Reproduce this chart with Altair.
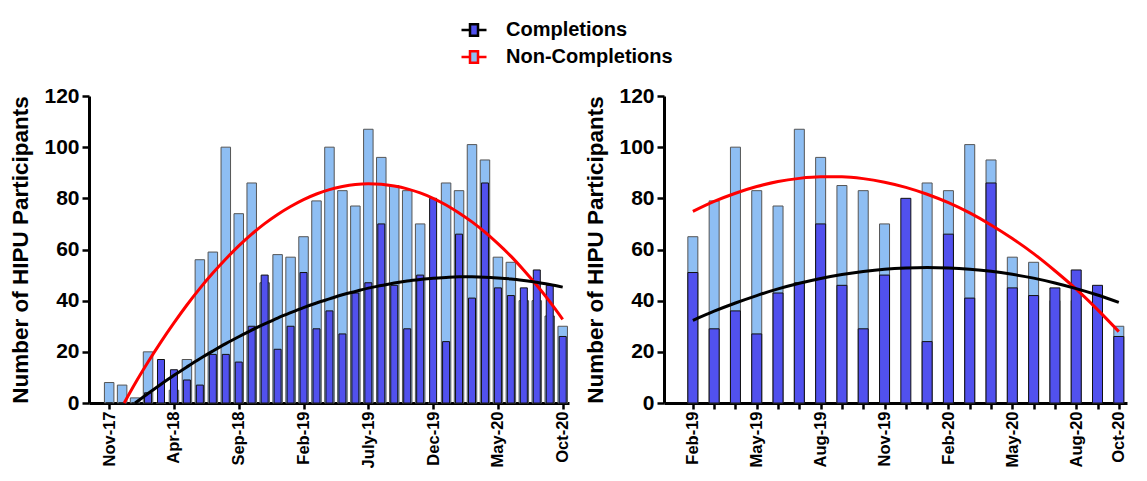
import altair as alt
import pandas as pd

FONT = "Liberation Sans"
DARK = "#5151EE"
LIGHT = "#8EBEF3"

months = ["Nov-17", "Dec-17", "Jan-18", "Feb-18", "Mar-18", "Apr-18", "May-18", "Jun-18",
          "Jul-18", "Aug-18", "Sep-18", "Oct-18", "Nov-18", "Dec-18", "Jan-19", "Feb-19",
          "Mar-19", "Apr-19", "May-19", "Jun-19", "July-19", "Aug-19", "Sep-19", "Oct-19",
          "Nov-19", "Dec-19", "Jan-20", "Feb-20", "Mar-20", "Apr-20", "May-20", "Jun-20",
          "Jul-20", "Aug-20", "Sep-20", "Oct-20"]
completions = [0, 0, 0, 4, 17, 13, 9, 7, 19, 19, 16, 30, 50, 21, 30, 51, 29, 36, 27, 43,
               47, 70, 46, 29, 50, 80, 24, 66, 41, 86, 45, 42, 45, 52, 46, 26]
non_completions = [8, 7, 2, 20, 0, 5, 17, 56, 59, 100, 74, 86, 47, 58, 57, 65, 79, 100, 83, 77,
                   107, 96, 85, 83, 70, 0, 86, 83, 101, 95, 57, 55, 40, 40, 34, 30]

# fitted curves (month index, value)
left_red_x = [1.16] + list(range(2, 36))
left_red = [0, 7.6, 16.0, 23.9, 31.3, 38.3, 44.8, 50.8, 56.3, 61.4, 66.0, 70.1, 73.7, 76.8,
            79.5, 81.7, 83.4, 84.6, 85.4, 85.7, 85.5, 84.8, 83.7, 82.1, 80.0, 77.4, 74.3,
            70.8, 66.8, 62.3, 57.4, 51.9, 46.0, 39.6, 32.7]
left_black_x = list(range(2, 36))
left_black = [0, 3.7, 7.3, 10.8, 14.1, 17.3, 20.3, 23.2, 25.9, 28.5, 30.9, 33.2, 35.3, 37.3,
              39.1, 40.7, 42.3, 43.6, 44.9, 45.9, 46.9, 47.7, 48.3, 48.8, 49.1, 49.3, 49.3,
              49.2, 48.9, 48.5, 47.9, 47.2, 46.3, 45.3]
right_x = list(range(15, 36))
right_red = [74.9, 78.8, 82.0, 84.6, 86.6, 87.8, 88.4, 88.4, 87.7, 86.3, 84.3, 81.6, 78.3,
             74.3, 69.6, 64.3, 58.4, 51.7, 44.5, 36.5, 27.9]
right_black = [32.3, 35.9, 39.1, 42.0, 44.6, 46.8, 48.7, 50.2, 51.4, 52.3, 52.8, 53.0, 52.8,
               52.3, 51.5, 50.3, 48.8, 46.9, 44.7, 42.2, 39.3]

left_ticks = [0, 5, 10, 15, 20, 25, 30, 35]
left_tick_labels = ["Nov-17", "Apr-18", "Sep-18", "Feb-19", "July-19", "Dec-19", "May-20", "Oct-20"]
right_ticks = list(range(15, 36))
right_label_at = [15, 18, 21, 24, 27, 30, 33, 35]
right_tick_labels = ["Feb-19", "May-19", "Aug-19", "Nov-19", "Feb-20", "May-20", "Aug-20", "Oct-20"]

series_names = ["Completions", "Non-Completions"]

bars = pd.DataFrame({
    "idx": list(range(len(months))) * 2,
    "month": months * 2,
    "value": completions + non_completions,
    "series": ["Completions"] * len(months) + ["Non-Completions"] * len(months),
})


def curve_df(xs, ys, name):
    return pd.DataFrame({"idx": xs, "value": ys, "series": [name] * len(xs)})


left_curves = pd.concat([curve_df(left_red_x, left_red, "Non-Completions"),
                         curve_df(left_black_x, left_black, "Completions")])
right_curves = pd.concat([curve_df(right_x, right_red, "Non-Completions"),
                          curve_df(right_x, right_black, "Completions")])

fill_scale = alt.Scale(domain=series_names, range=[DARK, LIGHT])
stroke_scale = alt.Scale(domain=series_names, range=["#000000", "#FF0000"])

legend = alt.Legend(
    title=None, orient="none", legendX=371, legendY=-80, direction="vertical",
    symbolType="M-1,0H-0.32M0.32,0H1M-0.32,-0.46H0.32V0.46H-0.32Z",
    symbolSize=625, symbolStrokeWidth=2.5, symbolOpacity=1,
    labelFont=FONT, labelFontSize=20, labelFontWeight="bold", labelColor="black",
    labelOffset=18, labelLimit=400, rowPadding=2, padding=0,
)


def js_list(items):
    return "[" + ",".join(repr(i) for i in items) + "]"


def panel(data_filter, curves, domain, width, tick_values, label_values, labels, light_w, dark_w):
    label_expr = (f"indexof({js_list(label_values)}, datum.value) >= 0 ? "
                  f"{js_list(labels)}[indexof({js_list(label_values)}, datum.value)] : ''")
    x = alt.X("idx:Q", scale=alt.Scale(domain=domain, nice=False, zero=False),
              axis=alt.Axis(values=tick_values, labelExpr=label_expr, title=None, grid=False,
                            labelAngle=270, labelFont=FONT, labelFontSize=16.5,
                            labelFontWeight="bold", labelColor="black", labelPadding=2,
                            domainColor="black", domainWidth=3, tickColor="black",
                            tickWidth=2.5, tickSize=6, labelOverlap=False))
    y = alt.Y("value:Q", scale=alt.Scale(domain=[0, 120], nice=False),
              axis=alt.Axis(values=list(range(0, 121, 20)), title="Number of HIPU Participants",
                            grid=False, labelFont=FONT, labelFontSize=21,
                            labelFontWeight="bold", labelColor="black", labelPadding=3,
                            titleFont=FONT, titleFontSize=22.5, titleFontWeight="bold",
                            titleColor="black", titlePadding=11,
                            domainColor="black", domainWidth=3, tickColor="black",
                            tickWidth=2.5, tickSize=7))
    base = alt.Chart(bars).transform_filter(data_filter)
    light = base.transform_filter(alt.datum.series == "Non-Completions").mark_bar(
        size=light_w, stroke="#555555", strokeWidth=1).encode(
        x=x, y=y, fill=alt.Fill("series:N", scale=fill_scale, legend=legend))
    dark = base.transform_filter(alt.datum.series == "Completions").mark_bar(
        size=dark_w, stroke="#111111", strokeWidth=1).encode(
        x=x, y=y, fill=alt.Fill("series:N", scale=fill_scale, legend=legend))
    cbase = alt.Chart(curves)
    red = cbase.transform_filter(alt.datum.series == "Non-Completions").mark_line(
        strokeWidth=3, interpolate="monotone").encode(
        x=x, y=y, stroke=alt.Stroke("series:N", scale=stroke_scale, legend=legend))
    black = cbase.transform_filter(alt.datum.series == "Completions").mark_line(
        strokeWidth=3, interpolate="monotone").encode(
        x=x, y=y, stroke=alt.Stroke("series:N", scale=stroke_scale, legend=legend))
    return alt.layer(light, dark, red, black).properties(width=width, height=307)


left = panel(alt.datum.idx >= 0, left_curves, [-1.17, 35.1], 480, left_ticks,
             left_ticks, left_tick_labels, 9.5, 7)
right = panel(alt.datum.idx >= 15, right_curves, [13.88, 35.15], 463, right_ticks,
              right_label_at, right_tick_labels, 10, 10)

chart = alt.hconcat(left, right, spacing=12).properties(
    padding={"left": 1, "top": 8, "right": 0, "bottom": 0},
    background="white",
).configure_view(stroke=None)

chart.save("out.html", embed_options={"renderer": "svg", "actions": False})
